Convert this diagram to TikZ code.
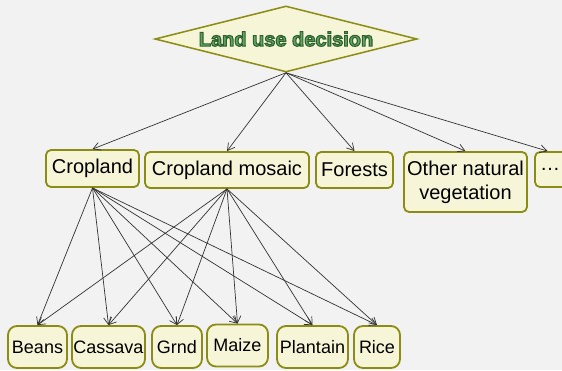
\documentclass[tikz,border=0pt]{standalone}
\usepackage{fontspec}
\setmainfont{Liberation Sans}
\usetikzlibrary{shapes.geometric,arrows.meta}
\definecolor{bg}{RGB}{242,242,242}
\definecolor{boxfill}{RGB}{247,245,216}
\definecolor{boxline}{RGB}{140,140,20}
\definecolor{txtgreen}{RGB}{100,165,100}
\newcommand{\outlinetext}[1]{\special{pdf:literal direct 2 Tr 1.1 w 0.18 0.38 0.18 RG}#1\special{pdf:literal direct 0 Tr 0.4 w}}
\tikzset{
  midbox/.style={draw=boxline, fill=boxfill, line width=1.8pt, rounded corners=5pt,
    inner sep=0pt, minimum height=36pt, align=center,
    font=\fontsize{20}{24}\selectfont},
  cropbox/.style={draw=boxline, fill=boxfill, line width=1.8pt, rounded corners=9pt,
    inner sep=0pt, minimum height=42pt, font=\fontsize{18}{22}\selectfont},
  link/.style={draw=black!80, line width=0.7pt, -{Straight Barb[length=7pt,width=8pt]}}
}
\begin{document}
\begin{tikzpicture}[x=1pt,y=-1pt]
\fill[bg] (0,0) rectangle (562,370);
\useasboundingbox (0,0) rectangle (562,370);
\node[diamond, draw=boxline, fill=boxfill, line width=1.5pt, aspect=3.97, inner sep=0pt,
  minimum width=262pt, minimum height=66pt,
  font=\fontsize{20}{22}\selectfont\bfseries, text=txtgreen] (d) at (286,39)
  {\outlinetext{Land use decision}};
\node[midbox, minimum width=93pt, minimum height=37pt] (crop) at (92.5,168.5) {Cropland};
\node[midbox, minimum width=164pt] (mos) at (227,170) {Cropland mosaic};
\node[midbox, minimum width=77pt] (for) at (354.5,170) {Forests};
\node[midbox, minimum width=123pt, minimum height=60pt] (oth) at (465.5,182) {Other natural\\vegetation};
\node[midbox, text width=40pt, align=left, inner xsep=5pt, minimum height=35pt] (dots) at (560,169.5) {\dots};
\node[cropbox, minimum width=59pt] (beans) at (37.5,347) {Beans};
\node[cropbox, minimum width=73pt] (cass) at (108.5,347) {Cassava};
\node[cropbox, minimum width=50pt] (grnd) at (177,347) {Grnd};
\node[cropbox, minimum width=61pt] (maize) at (237.5,345.5) {Maize};
\node[cropbox, minimum width=71pt] (plant) at (312.5,347) {Plantain};
\node[cropbox, minimum width=46pt] (rice) at (377,347) {Rice};
\foreach \t in {crop,mos,for,oth} \draw[link] (d.south) -- (\t.north);
\draw[link] (d.south) -- (dots.124);
\foreach \s in {crop,mos}
  \foreach \t in {beans,cass,grnd,maize,plant,rice}
    \draw[link] (\s.south) -- (\t.north);
\end{tikzpicture}
\end{document}
